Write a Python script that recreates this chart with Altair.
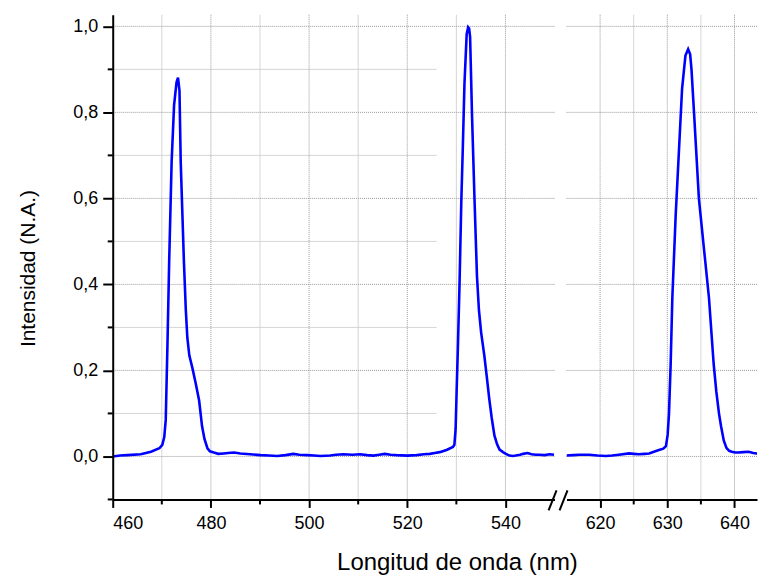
import altair as alt
import pandas as pd

# ---------------- data ----------------
left_nm = [460.0, 461.5, 463.0, 465.7, 467.8, 469.5, 470.1, 470.5, 470.8, 471.15,
           471.5, 472.0, 472.5, 473.0, 473.3, 473.6, 473.85, 474.5, 474.9, 475.2,
           475.6, 476.2, 476.9, 477.6, 478.2, 478.7, 479.3, 479.8, 480.6, 481.5,
           482.6, 483.5, 484.7, 486.0, 488.0, 490.1, 491.8, 493.5, 495.2, 496.8,
           498.0, 499.6, 501.0, 502.3, 504.3, 505.5, 507.0, 508.8, 510.4, 511.8,
           513.1, 514.3, 515.4, 516.6, 517.8, 520.0, 521.9, 523.4, 524.6, 525.6,
           526.6, 528.0, 529.3, 529.6, 529.85, 530.05, 530.3, 530.65, 531.0, 531.3,
           531.65, 532.1, 532.4, 532.6, 532.8, 533.2, 533.7, 534.2, 534.6, 535.05,
           535.7, 536.2, 536.7, 537.2, 537.75, 538.3, 538.8, 539.5, 540.1, 540.8,
           541.5, 542.1, 543.0, 543.6, 544.5, 545.3, 546.2, 546.9, 548.0, 549.0, 549.9]
left_val = [0.000, 0.002, 0.003, 0.005, 0.011, 0.019, 0.027, 0.045, 0.085, 0.260,
            0.454, 0.685, 0.817, 0.870, 0.881, 0.850, 0.685, 0.454, 0.338, 0.276,
            0.235, 0.207, 0.170, 0.130, 0.070, 0.040, 0.019, 0.012, 0.009, 0.006,
            0.007, 0.008, 0.009, 0.007, 0.005, 0.003, 0.002, 0.001, 0.003, 0.006,
            0.004, 0.003, 0.002, 0.001, 0.002, 0.004, 0.005, 0.004, 0.005, 0.003,
            0.002, 0.004, 0.006, 0.004, 0.003, 0.002, 0.003, 0.005, 0.006, 0.008,
            0.010, 0.015, 0.022, 0.027, 0.064, 0.150, 0.249, 0.403, 0.589, 0.712,
            0.866, 0.982, 0.998, 0.995, 0.975, 0.789, 0.597, 0.419, 0.340, 0.288,
            0.234, 0.185, 0.134, 0.090, 0.049, 0.028, 0.016, 0.010, 0.006, 0.002,
            0.001, 0.002, 0.004, 0.006, 0.008, 0.005, 0.004, 0.004, 0.003, 0.005, 0.004]

right_nm = [615.0, 616.0, 616.9, 618.4, 619.6, 620.85, 621.8, 622.8, 624.3, 625.0,
            625.8, 626.6, 627.3, 628.0, 628.75, 629.4, 629.8, 630.05, 630.25, 630.5,
            630.75, 631.25, 631.75, 632.2, 632.7, 633.1, 633.4, 633.6, 634.0, 634.7,
            635.45, 636.2, 636.9, 637.3, 637.7, 638.0, 638.4, 638.8, 639.2, 639.6,
            640.1, 640.6, 641.3, 642.1, 642.8, 643.3, 644.0, 644.5]
right_val = [0.002, 0.003, 0.004, 0.004, 0.002, 0.001, 0.002, 0.004, 0.007, 0.006,
             0.005, 0.006, 0.007, 0.011, 0.015, 0.018, 0.024, 0.050, 0.099, 0.215,
             0.369, 0.562, 0.716, 0.855, 0.932, 0.947, 0.935, 0.900, 0.793, 0.600,
             0.484, 0.369, 0.215, 0.150, 0.099, 0.070, 0.037, 0.020, 0.013, 0.011,
             0.009, 0.009, 0.010, 0.011, 0.008, 0.007, 0.006, 0.004]

y_major = [0.0, 0.2, 0.4, 0.6, 0.8, 1.0]
y_minor = [-0.1, 0.1, 0.3, 0.5, 0.7, 0.9]
left_major = [460, 480, 500, 520, 540]
left_minor = [470, 490, 510, 530]
right_major = [620, 630, 640]
right_minor = [625, 635]
# extent (nm) of the short minor horizontal grid lines in the left panel
minor_hgrid_from, minor_hgrid_to = 460, 526

x_title = "Longitud de onda (nm)"
y_title = "Intensidad (N.A.)"

# ---------------- styles ----------------
FONT = "Liberation Sans"
H = 486
WL = 443
WR = 191
LINE_BLUE = "#0000FF"
MAJOR_GRID = "#9a9a9a"
MINOR_GRID = "#d6d6d6"

ys = alt.Scale(domain=[-0.1, 1.027], nice=False, zero=False)
xs_left = alt.Scale(domain=[460, 550], nice=False, zero=False)
xs_right = alt.Scale(domain=[615, 643.35], nice=False, zero=False)

df_left = pd.DataFrame({"nm": left_nm, "v": left_val})
df_right = pd.DataFrame({"nm": right_nm, "v": right_val})


def panel(df, xs, majors, minors, width, left_panel):
    xaxis = alt.Axis(values=majors, format="d", grid=False, tickSize=8, tickWidth=2,
                     domainWidth=2, domainColor="black", tickColor="black",
                     labelFont=FONT, labelFontSize=18, labelColor="black", labelPadding=7,
                     title=None, zindex=2)
    if left_panel:
        yaxis = alt.Axis(values=y_major, grid=False, tickSize=10, tickWidth=2,
                         domainWidth=2, domainColor="black", tickColor="black",
                         labelExpr="replace(format(datum.value, '.1f'), '.', ',')",
                         labelFont=FONT, labelFontSize=18, labelColor="black",
                         labelPadding=5, title=y_title, titleFont=FONT,
                         titleFontSize=21, titleFontWeight="normal", titleColor="black",
                         titlePadding=34, titleY=254, zindex=2)
    else:
        yaxis = None

    def X(f):
        return alt.X(f, scale=xs, axis=xaxis)

    def Y(f):
        return alt.Y(f, scale=ys, axis=yaxis)

    layers = []
    # minor vertical grid (solid light)
    layers.append(
        alt.Chart(pd.DataFrame({"t": minors})).mark_rule(color=MINOR_GRID, strokeWidth=1)
        .encode(x=X("t:Q"))
    )
    if left_panel:
        hg = [v for v in y_minor if v > -0.1]
        layers.append(
            alt.Chart(pd.DataFrame({"t": hg,
                                    "a": [minor_hgrid_from] * len(hg),
                                    "b": [minor_hgrid_to] * len(hg)}))
            .mark_rule(color=MINOR_GRID, strokeWidth=1)
            .encode(y=Y("t:Q"), x=X("a:Q"), x2="b:Q")
        )
    # major grids (dotted)
    layers.append(
        alt.Chart(pd.DataFrame({"t": [m for m in majors if m != 460]}))
        .mark_rule(color=MAJOR_GRID, strokeWidth=1, strokeDash=[1, 1])
        .encode(x=X("t:Q"))
    )
    layers.append(
        alt.Chart(pd.DataFrame({"t": y_major}))
        .mark_rule(color=MAJOR_GRID, strokeWidth=1, strokeDash=[1, 1])
        .encode(y=Y("t:Q"))
    )
    # spectrum line
    layers.append(
        alt.Chart(df).mark_line(color=LINE_BLUE, strokeWidth=2.6, clip=True)
        .encode(x=X("nm:Q"), y=Y("v:Q"))
    )
    # minor ticks on x axis
    layers.append(
        alt.Chart(pd.DataFrame({"t": minors})).mark_rule(color="black", strokeWidth=2)
        .encode(x=X("t:Q"), y=alt.value(H), y2=alt.value(H + 5))
    )
    if left_panel:
        layers.append(
            alt.Chart(pd.DataFrame({"t": y_minor})).mark_rule(color="black", strokeWidth=2)
            .encode(y=Y("t:Q"), x=alt.value(0), x2=alt.value(-5))
        )
    else:
        # axis break marks "//"
        brk = pd.DataFrame({"k": [0]})
        layers.append(
            alt.Chart(brk).mark_rule(color="black", strokeWidth=2)
            .encode(x=alt.value(-18), x2=alt.value(-10), y=alt.value(H + 11), y2=alt.value(H - 9))
        )
        layers.append(
            alt.Chart(brk).mark_rule(color="black", strokeWidth=2)
            .encode(x=alt.value(-7), x2=alt.value(1), y=alt.value(H + 11), y2=alt.value(H - 9))
        )
    return alt.layer(*layers).properties(width=width, height=H)


left = panel(df_left, xs_left, left_major, left_minor, WL, True)
right = panel(df_right, xs_right, right_major, right_minor, WR, False)

chart = (
    alt.hconcat(left, right, spacing=12, bounds="flush")
    .properties(
        padding={"left": 9, "right": 0, "top": 5, "bottom": 0},
        background="white",
        title=alt.TitleParams(x_title, orient="bottom", anchor="start", dx=320,
                              offset=19, font=FONT, fontSize=24, fontWeight="normal",
                              color="black"),
    )
    .configure_view(stroke=None)
)

chart.save("out.html", embed_options={"renderer": "svg", "actions": False})
